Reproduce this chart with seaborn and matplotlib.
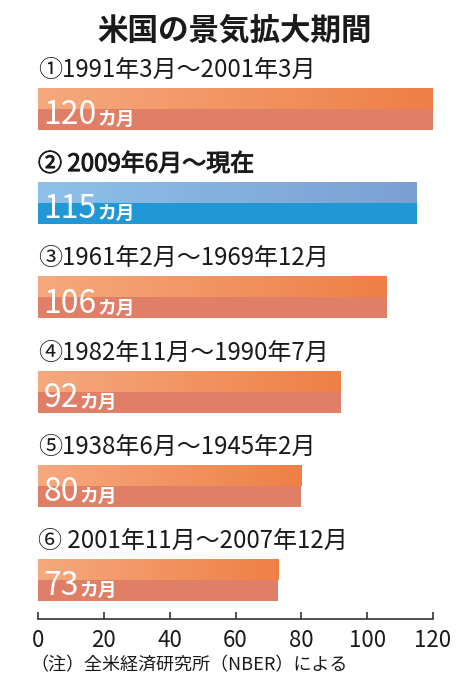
"""米国の景気拡大期間 - horizontal bar chart of US expansion lengths."""

import matplotlib

matplotlib.use("Agg")
import matplotlib.patheffects as pe
import matplotlib.pyplot as plt
import numpy as np
import pandas as pd
import seaborn as sns
from matplotlib.colors import LinearSegmentedColormap

TITLE = "米国の景気拡大期間"
NOTE = "（注）全米経済研究所（NBER）による"

periods = [
    "①1991年3月～2001年3月",
    "② 2009年6月～現在",
    "③1961年2月～1969年12月",
    "④1982年11月～1990年7月",
    "⑤1938年6月～1945年2月",
    "⑥ 2001年11月～2007年12月",
]
months = [120, 115, 106, 92, 80, 73]
is_current = [False, True, False, False, False, False]
x_ticks = [0, 20, 40, 60, 80, 100, 120]

ORANGE_LOW = "#e07f68"
ORANGE_TOP = ("#f5a97e", "#ef7f45")
BLUE_LOW = "#2197d5"
BLUE_TOP = ("#8dc1e9", "#7aa0d2")

FONTS = ["Noto Sans CJK JP", "DejaVu Sans"]


def main():
    sns.set_theme(style="white")
    plt.rcParams["font.family"] = FONTS

    df = pd.DataFrame({"period": periods, "months": months,
                       "kind": ["current" if c else "past" for c in is_current]})

    fig = plt.figure(figsize=(4.70, 6.87), dpi=100)
    ax = fig.add_axes([38 / 470, 68 / 687, 395 / 470, 569 / 687])

    bar_width = 0.447
    sns.barplot(data=df, x="months", y="period", hue="kind", orient="h",
                palette={"past": ORANGE_LOW, "current": BLUE_LOW},
                width=bar_width, dodge=False, legend=False, ax=ax,
                saturation=1, linewidth=0)

    # lighter gradient on the upper half of each bar
    bars = sorted(ax.patches, key=lambda p: p.get_y())
    for bar, current in zip(bars, is_current):
        x0, y0 = bar.get_x(), bar.get_y()
        w, h = bar.get_width(), bar.get_height()
        cmap = LinearSegmentedColormap.from_list("g", BLUE_TOP if current else ORANGE_TOP)
        im = ax.imshow(np.linspace(0, 1, 256).reshape(1, -1), cmap=cmap, aspect="auto",
                       extent=(x0, x0 + w + 1, y0 + h / 2, y0 - 0.05), zorder=3)
        im.set_clip_path(bar)

    for bar, label, value, current in zip(bars, periods, months, is_current):
        yc = bar.get_y() + bar.get_height() / 2
        t = ax.text(0, yc - 0.415, label, fontsize=17.3, va="center", ha="left",
                    color="#1a1a1a", zorder=5)
        if current:
            t.set_path_effects([pe.withStroke(linewidth=0.7, foreground="#1a1a1a")])
        num = ax.annotate(str(value), xy=(0, yc), xytext=(4, -11), textcoords="offset points",
                          fontsize=23, color="white", va="baseline", ha="left", zorder=5)
        ax.annotate("カ月", xy=(1, 0), xycoords=num, xytext=(0.5, 1.5),
                    textcoords="offset points", fontsize=13.5, color="white",
                    va="bottom", ha="left", fontweight="bold", zorder=5)

    ax.set_xlim(0, 120)
    ax.set_ylim(5.414, -0.626)
    ax.set_xticks(x_ticks)
    ax.set_xticklabels([str(t) for t in x_ticks])
    ax.set_yticks([])
    ax.set_xlabel("")
    ax.set_ylabel("")
    for side in ["top", "left", "right"]:
        ax.spines[side].set_visible(False)
    ax.spines["bottom"].set_color("#333333")
    ax.spines["bottom"].set_linewidth(1.2)
    ax.tick_params(axis="x", direction="in", length=5, width=1.2, color="#333333",
                   labelsize=16, labelcolor="#1a1a1a", pad=7, bottom=True)

    fig.text(0.5, 1 - 31 / 687, TITLE, fontsize=22, fontweight="bold",
             ha="center", va="center", color="#1a1a1a")
    fig.text(30 / 470, 1 - 665 / 687, NOTE, fontsize=13, ha="left", va="center",
             color="#1a1a1a")

    fig.savefig("out.png", dpi=100)
    plt.close(fig)


if __name__ == "__main__":
    main()
